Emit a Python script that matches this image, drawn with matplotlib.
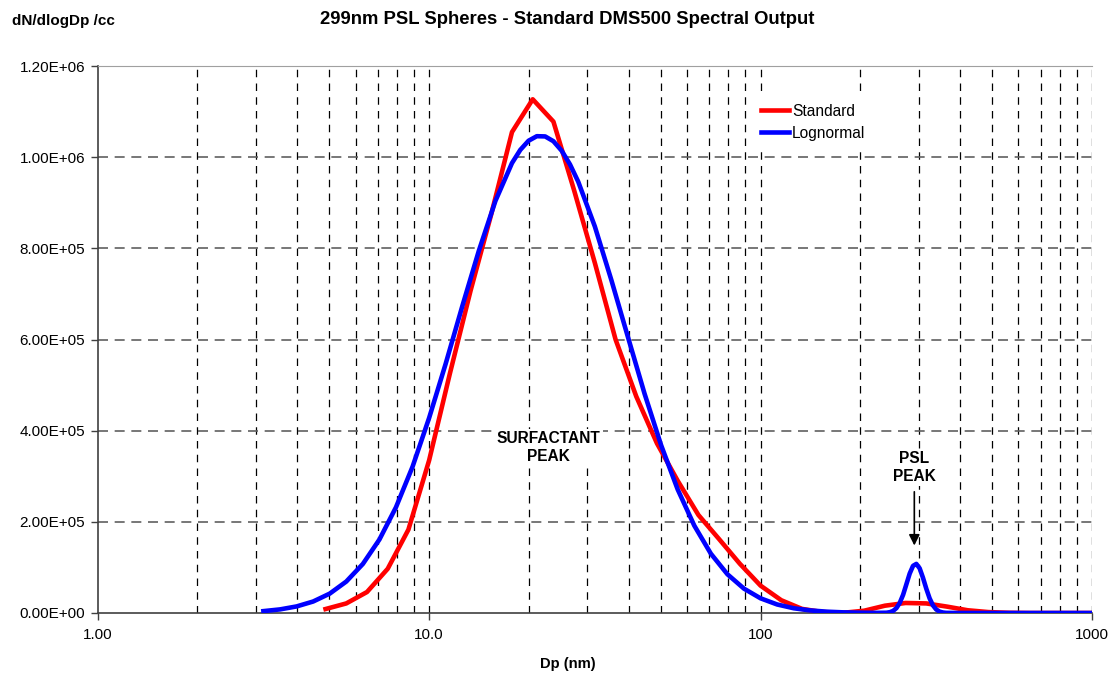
import numpy as np
import matplotlib
matplotlib.use("Agg")
import matplotlib.pyplot as plt
from matplotlib.ticker import FixedLocator, FixedFormatter, NullFormatter

plt.rcParams['font.family'] = ['Liberation Sans', 'DejaVu Sans']

# standard DMS500 channels, 16 per decade (k = 11 .. 48)
std_k = np.arange(11, 49)
std_dp = 10 ** (std_k / 16.0)
std_val = [8.7e3, 2.1e4, 4.6e4, 9.7e4, 1.83e5, 3.35e5, 5.25e5, 7.07e5,
           8.75e5, 1.055e6, 1.127e6, 1.078e6, 9.27e5, 7.68e5, 6.0e5, 4.75e5,
           3.72e5, 2.9e5, 2.15e5, 1.62e5, 1.08e5, 6.0e4, 2.8e4, 9e3,
           2e3, 5e2, 5e3, 1.6e4, 2.2e4, 2.1e4, 1.4e4, 6e3,
           2e3, 5e2, 0, 0, 0, 0]

# lognormal fit (surfactant mode + PSL mode)
logn_dp = [3.162, 3.548, 3.981, 4.467, 5.012, 5.623, 6.310, 7.079, 7.943,
           8.913, 10.0, 11.22, 12.59, 14.13, 15.85, 17.78, 18.84, 19.95,
           21.13, 22.39, 23.71, 25.12, 26.61, 28.18, 31.62, 35.48, 39.81,
           44.67, 50.12, 56.23, 63.10, 70.79, 79.43, 89.13, 100.0, 112.2,
           125.9, 141.3, 158.5, 177.8, 199.5, 223.9, 239.9, 245.5, 251.2,
           257.0, 263.0, 269.2, 275.4, 281.8, 288.4, 295.1, 302.0, 309.0,
           316.2, 323.6, 331.1, 338.8, 346.7, 354.8, 363.1, 398.1, 631.0,
           1000.0]
logn_val = [4.1e3, 7.9e3, 1.44e4, 2.52e4, 4.25e4, 6.9e4, 1.076e5, 1.612e5,
            2.32e5, 3.21e5, 4.28e5, 5.47e5, 6.73e5, 7.95e5, 9.04e5, 9.87e5,
            1.016e6, 1.036e6, 1.046e6, 1.0455e6, 1.035e6, 1.014e6, 9.84e5,
            9.46e5, 8.48e5, 7.30e5, 6.05e5, 4.81e5, 3.68e5, 2.71e5, 1.917e5,
            1.302e5, 8.5e4, 5.34e4, 3.22e4, 1.87e4, 1.04e4, 5.6e3, 2.9e3,
            1.4e3, 7e2, 3e2, 6e2, 1.8e3, 4.6e3, 1.08e4, 2.22e4, 4.0e4, 6.3e4,
            8.65e4, 1.034e5, 1.077e5, 9.8e4, 7.75e4, 5.35e4, 3.22e4, 1.69e4,
            7.7e3, 3.1e3, 1.1e3, 3e2, 0, 0, 0]

y_ticks = [0, 2e5, 4e5, 6e5, 8e5, 1e6, 1.2e6]
y_labels = ['0.00E+00', '2.00E+05', '4.00E+05', '6.00E+05', '8.00E+05',
            '1.00E+06', '1.20E+06']
x_ticks = [1, 10, 100, 1000]
x_labels = ['1.00', '10.0', '100', '1000']

fig = plt.figure(figsize=(11.16, 6.74), dpi=100)
ax = fig.add_axes([97.7/1116, 61/674, (1092-97.7)/1116, 547/674])

# grid
minor = [m * 10**d for d in range(0, 3) for m in range(2, 10)]
for xv in minor + [10, 100, 1000]:
    ax.axvline(xv, color='black', lw=0.9, ls=(0, (6, 5)), zorder=1)
for yv in y_ticks[1:-1]:
    ax.axhline(yv, color='#606060', lw=1.2, ls=(0, (6, 4)), zorder=1)

ax.plot(std_dp, std_val, color='#ff0000', lw=3.3, label='Standard', zorder=3)
ax.plot(logn_dp, logn_val, color='#0000ff', lw=3.3, label='Lognormal', zorder=4)

ax.set_xscale('log')
ax.set_xlim(1, 1000)
ax.set_ylim(0, 1.2e6)
ax.xaxis.set_major_locator(FixedLocator(x_ticks))
ax.xaxis.set_major_formatter(FixedFormatter(x_labels))
ax.xaxis.set_minor_locator(FixedLocator([]))
ax.xaxis.set_minor_formatter(NullFormatter())
ax.set_yticks(y_ticks)
ax.set_yticklabels(y_labels)
ax.tick_params(axis='both', labelsize=11, length=5, width=1, color='#404040')
ax.tick_params(axis='x', pad=6)
ax.tick_params(axis='y', pad=4)

ax.spines['right'].set_visible(False)
ax.spines['top'].set_color('#a0a0a0')
ax.spines['left'].set_color('#404040')
ax.spines['bottom'].set_color('#404040')
ax.spines['left'].set_linewidth(1.2)
ax.spines['bottom'].set_linewidth(1.2)

fig.text(567/1116, 1 - 20/674, '299nm PSL Spheres - Standard DMS500 Spectral Output',
         ha='center', va='center', fontsize=13.3, fontweight='bold')
fig.text(12/1116, 1 - 21/674, 'dN/dlogDp /cc', ha='left', va='center',
         fontsize=11, fontweight='bold')
fig.text(568/1116, 1 - 664/674, 'Dp (nm)', ha='center', va='center',
         fontsize=10.6, fontweight='bold')

box = dict(facecolor='white', edgecolor='none', pad=1.5)
ax.text(22.95, 3.64e5, 'SURFACTANT\nPEAK', ha='center', va='center',
        fontsize=11.2, fontweight='bold', linespacing=1.25, bbox=box, zorder=5)
ax.text(291, 3.2e5, 'PSL\nPEAK', ha='center', va='center',
        fontsize=11.2, fontweight='bold', linespacing=1.25, bbox=box, zorder=5)
ax.annotate('', xy=(291, 1.42e5), xytext=(291, 2.72e5),
            arrowprops=dict(arrowstyle='-|>', color='black', lw=1.2,
                            mutation_scale=16), zorder=5)

leg = ax.legend(loc='upper left', bbox_to_anchor=(753/1116, 1 - 96/674),
                bbox_transform=fig.transFigure, frameon=True, fontsize=11.2,
                handlelength=1.8, handletextpad=0.2, labelspacing=0.45,
                borderaxespad=0, borderpad=0.5, fancybox=False,
                facecolor='white', edgecolor='none', framealpha=1)
leg.set_zorder(6)

fig.savefig('out.png', dpi=100)
